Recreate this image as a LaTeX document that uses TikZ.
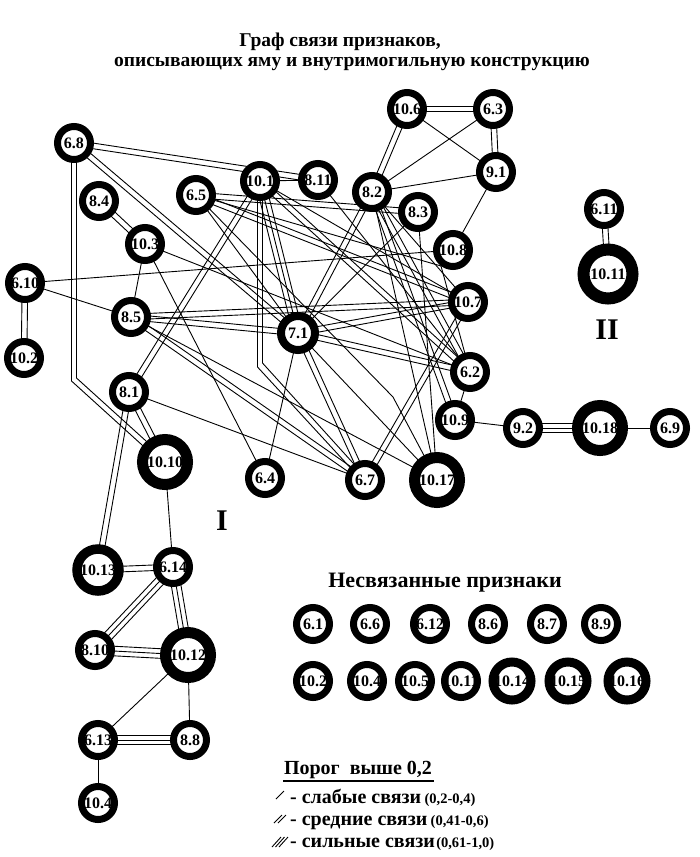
\documentclass[tikz,border=0pt]{standalone}
\usepackage{fontspec}
\setmainfont{Liberation Serif}
\usetikzlibrary{calc}
\pgfdeclarelayer{bg}
\pgfsetlayers{bg,main}
\tikzset{
  edge/.style={line width=0.9pt, black},
  nd/.style={circle, draw=black, fill=white, line width=7pt, minimum size=33pt, inner sep=0pt,
    font=\bfseries\fontsize{16}{16}\selectfont},
  ndm/.style={nd, line width=8pt, minimum size=34pt},
  ndl/.style={nd, line width=9.5pt, minimum size=42pt},
  ndb/.style={nd, line width=11pt, minimum size=45pt},
  ndh/.style={nd, line width=12pt, minimum size=49pt},
  ndu/.style={nd, line width=9pt, minimum size=38pt},
  roman/.style={font=\bfseries\fontsize{30}{30}\selectfont, inner sep=0pt},
  ttl/.style={font=\bfseries\fontsize{19.5}{19.5}\selectfont, inner sep=0pt},
  leg/.style={font=\bfseries\fontsize{20}{20}\selectfont, inner sep=0pt, anchor=base west},
  legs/.style={font=\bfseries\fontsize{14.5}{14.5}\selectfont, inner sep=0pt, anchor=base west},
}
\newcommand\N[4]{\node[#1] (#2) at (#3) {\makebox[0pt]{#4}};}
\newcommand\eA[2]{\draw[edge] (#1.center) -- (#2.center);}
\newcommand\eOff[3]{\draw[edge] ($(#2.center)!#1!90:(#3.center)$) -- ($(#3.center)!#1!-90:(#2.center)$);
  \draw[edge] ($(#2.center)!#1!-90:(#3.center)$) -- ($(#3.center)!#1!90:(#2.center)$);}
\newcommand\eB[2]{\eOff{2.8pt}{#1}{#2}}
\newcommand\eC[2]{\eA{#1}{#2}\eOff{4.8pt}{#1}{#2}}
\begin{document}
\begin{tikzpicture}[x=1pt,y=-1pt]
\useasboundingbox (0,0) rectangle (700,857);
% titles
\node[ttl] (t1) at (340,42) {Граф связи признаков,};
\node[ttl] (t2) at (352,64) {описывающих яму и внутримогильную конструкцию};
% main graph nodes
\N{nd}{n68}{74,143}{6.8}
\N{nd}{n84}{99,201}{8.4}
\N{nd}{n103}{145,244}{10.3}
\N{nd}{n65}{196,195}{6.5}
\N{nd}{n610}{25,283}{6.10}
\N{nd}{n85}{131,317}{8.5}
\N{nd}{n102}{24,358}{10.2}
\N{nd}{n81}{129,392}{8.1}
\N{nd}{n101}{260,181}{10.1}
\N{nd}{n811}{318,180}{8.11}
\N{nd}{n82}{372,192}{8.2}
\N{nd}{n83}{418,212}{8.3}
\N{nd}{n108}{453,250}{10.8}
\N{nd}{n107}{468,302}{10.7}
\N{ndm}{n71}{298,333}{7.1}
\N{nd}{n62}{470,372}{6.2}
\N{nd}{n106}{407,109}{10.6}
\N{nd}{n63}{493,109}{6.3}
\N{nd}{n91}{496,172}{9.1}
\N{nd}{n611}{604,209}{6.11}
\N{ndh}{n1011}{608,274}{10.11}
\N{nd}{n109}{455,420}{10.9}
\N{nd}{n92}{523,428}{9.2}
\N{ndb}{n1018}{600,428}{10.18}
\N{nd}{n69}{670,428}{6.9}
\N{ndb}{n1017}{437,480}{10.17}
\N{ndb}{n1010}{165,462}{10.10}
\N{nd}{n64}{265,478}{6.4}
\N{nd}{n67}{365,480}{6.7}
\N{ndl}{n1013}{98,570}{10.13}
\N{nd}{n614}{173,567}{6.14}
\N{nd}{n810}{95,650}{8.10}
\N{ndb}{n1012}{188,655}{10.12}
\N{nd}{n613}{98,740}{6.13}
\N{nd}{n88}{190,740}{8.8}
\N{nd}{n104}{98,803}{10.4}
\node[roman] (lI) at (222,521) {I};
\node[roman] (lII) at (607,330) {II};
% unconnected
\node[ttl, font=\bfseries\fontsize{22}{22}\selectfont] (tu) at (445,583) {Несвязанные признаки};
\N{nd}{u61}{313,624}{6.1}
\N{nd}{u66}{370,624}{6.6}
\N{nd}{u612}{430,624}{6.12}
\N{nd}{u86}{488,624}{8.6}
\N{nd}{u87}{547,624}{8.7}
\N{nd}{u89}{601,624}{8.9}
\N{nd}{u102}{313,681}{10.2}
\N{nd}{u104}{367,681}{10.4}
\N{nd}{u105}{415,681}{10.5}
\N{nd}{u1011}{461,681}{10.11}
\N{ndu}{u1014}{512,681}{10.14}
\N{ndu}{u1015}{568,681}{10.15}
\N{ndu}{u1016}{627,681}{10.16}
% legend
\node[ttl, font=\bfseries\fontsize{20}{20}\selectfont] (lt) at (358,770) {Порог\ \ выше 0,2};
\draw[line width=1.3pt] (283,781) -- (434,781);
\node[leg] (l1) at (290,803) {- слабые связи};
\node[legs] (l1b) at ([xshift=3pt]l1.base east) {(0,2-0,4)};
\node[leg] (l2) at (290,825) {- средние связи};
\node[legs] (l2b) at ([xshift=3pt]l2.base east) {(0,41-0,6)};
\node[leg] (l3) at (290,847) {- сильные связи};
\node[legs] (l3b) at ([xshift=1pt]l3.base east) {(0,61-1,0)};
\draw[edge] (276,799) -- (284,791);
\draw[edge] (274,823) -- (282,815);
\draw[edge] (278,823) -- (286,815);
\draw[edge] (272,847) -- (281,837);
\draw[edge] (275.5,847) -- (284.5,837);
\draw[edge] (279,847) -- (288,837);
% edges
\begin{pgfonlayer}{bg}
% top right cluster
\eB{n106}{n63} \eB{n63}{n91} \eB{n106}{n82}
\eA{n106}{n91} \eA{n63}{n82} \eA{n91}{n82} \eA{n91}{n108}
% left
\eA{n101}{n811}
\eB{n68}{n811} \eB{n68}{n71}
\draw[edge] ($(n68.center)+(-2.5,0)$) -- (71.5,381) -- ($(n1010.center)+(-2,2)$);
\draw[edge] ($(n68.center)+(2.5,0)$) -- (76.5,378) -- ($(n1010.center)+(2,-2)$);
\eB{n84}{n103} \eB{n610}{n102}
\eA{n610}{n85} \eA{n610}{n108}
\eA{n103}{n85} \eA{n103}{n62} \eA{n103}{n64}
\eB{n85}{n71} \eB{n85}{n107} \eB{n85}{n67} \eA{n85}{n1017}
\eB{n81}{n101} \eB{n81}{n1010} \eB{n81}{n1013} \eA{n81}{n67}
\eA{n1010}{n614}
% center
\eC{n101}{n71}
\draw[edge] ($(n101.center)+(-2.5,0)$) -- (257.5,367) -- ($(n67.center)+(-1.8,1.7)$);
\draw[edge] ($(n101.center)+(2.5,0)$) -- (262.5,363) -- ($(n67.center)+(1.8,-1.7)$);
\eA{n101}{n107} \eB{n101}{n62}
\eA{n71}{n64} \eB{n71}{n67} \eA{n71}{n1017} \eA{n71}{n83} \eA{n71}{n65}
\eB{n71}{n62} \eB{n71}{n107} \eB{n71}{n82}
\eB{n65}{n83} \eB{n65}{n107}
\draw[edge] (n65.center) -- (393,397) -- (n1017.center);
\draw[edge] (n65.center) -- (441,266) -- (n62.center);
\eA{n82}{n107} \eB{n82}{n62} \eB{n82}{n109} \eA{n82}{n1017}
\eA{n83}{n1017} \eA{n811}{n62}
\eB{n107}{n67}
\eA{n62}{n109} \eA{n109}{n92}
\eC{n92}{n1018} \eA{n1018}{n69}
\eB{n611}{n1011}
% bottom left
\eB{n1013}{n614}
\eC{n614}{n810} \eC{n614}{n1012} \eC{n810}{n1012}
\eA{n1012}{n613} \eA{n1012}{n88}
\eC{n613}{n88} \eA{n613}{n104}
\end{pgfonlayer}
\end{tikzpicture}
\end{document}
